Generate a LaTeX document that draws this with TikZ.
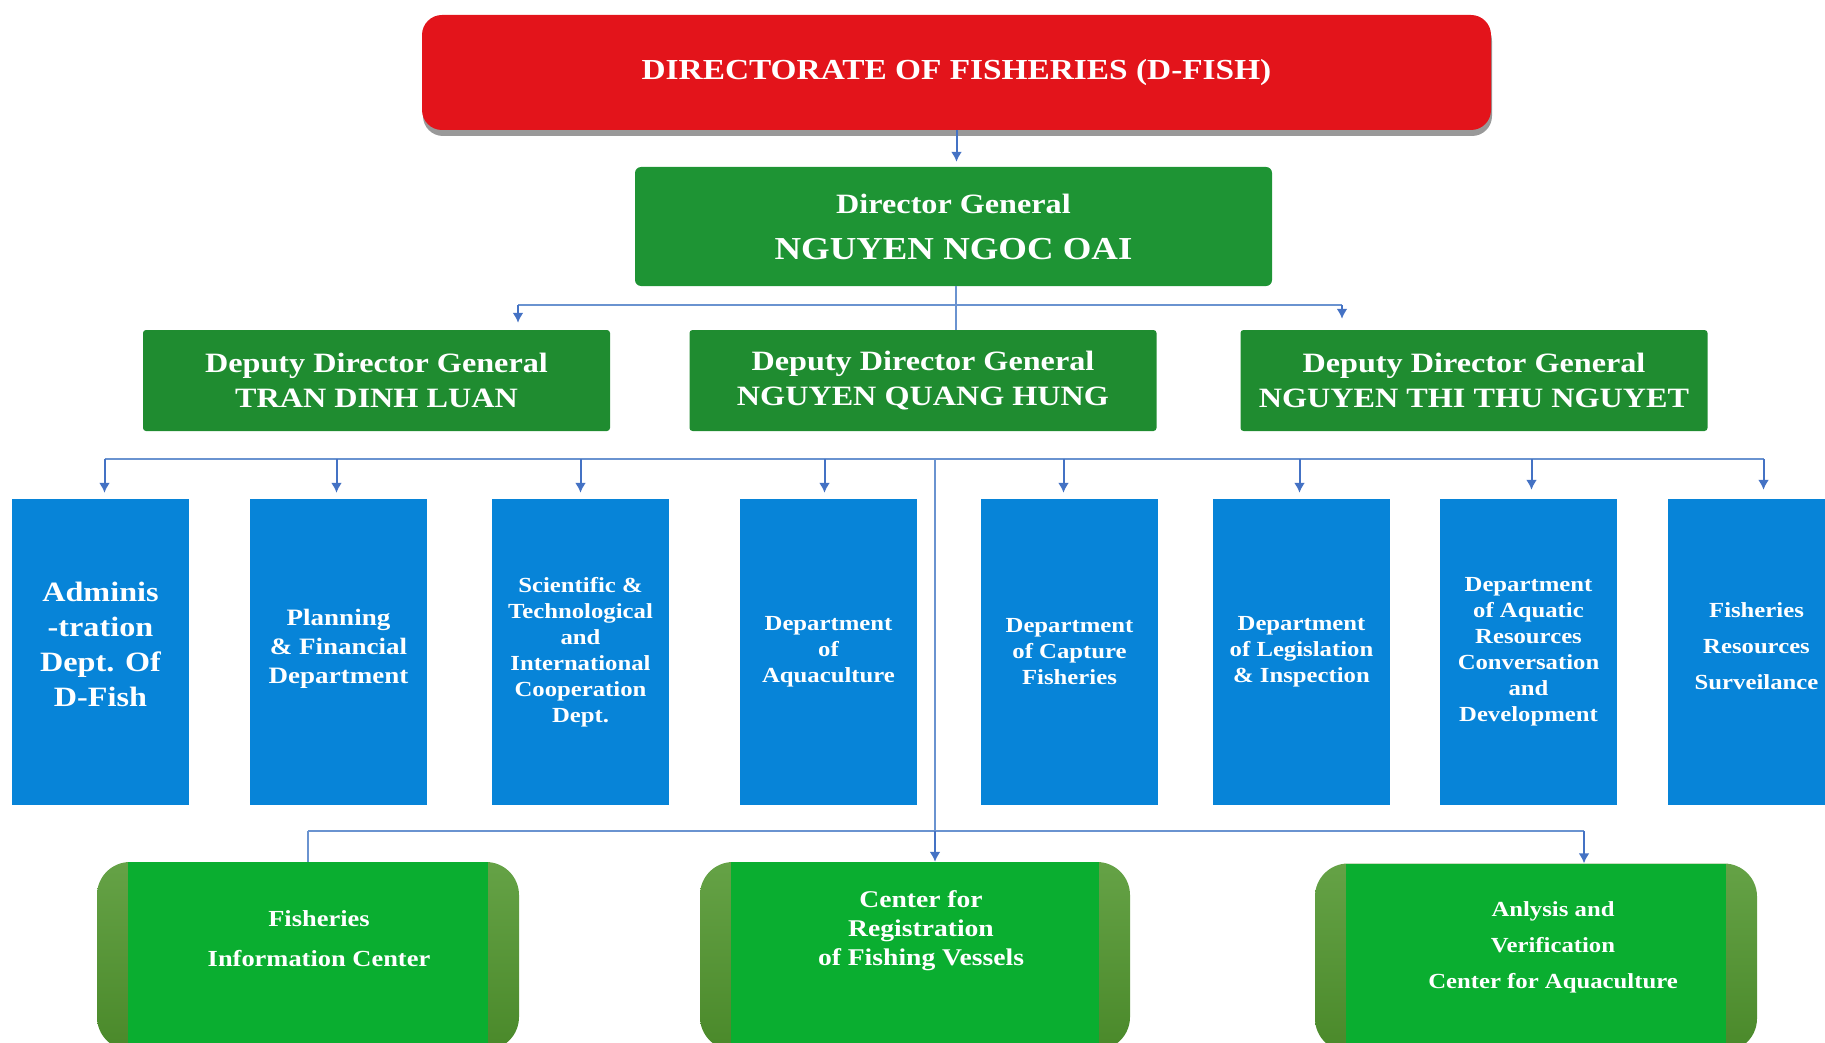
\documentclass[tikz,border=0pt]{standalone}
\usepackage{fontspec}
\setmainfont{Liberation Serif}[FakeStretch=1.15]
\usetikzlibrary{positioning,arrows.meta,shadows}
\definecolor{dfred}{HTML}{E3141B}
\definecolor{dggreen}{HTML}{1E9434}
\definecolor{ddgreen}{HTML}{1F8C30}
\definecolor{deptblue}{HTML}{0784D8}
\definecolor{ctrgreen}{HTML}{0AAE30}
\definecolor{bandtop}{HTML}{65A246}
\definecolor{bandbot}{HTML}{4A892A}
\definecolor{linkblue}{HTML}{4472C4}
\definecolor{busblue}{HTML}{6A93D0}
\tikzset{>={Latex[length=10pt,width=11pt]},
  topbox/.style={fill=dfred, rounded corners=20pt, minimum width=1069pt, minimum height=115pt, text=white, font=\fontsize{29}{34}\selectfont\bfseries, drop shadow={shadow xshift=1pt, shadow yshift=-6pt, opacity=.5, fill=black!80}},
  dgbox/.style={fill=dggreen, rounded corners=6pt, minimum width=637pt, minimum height=119pt, text=white, align=center, font=\fontsize{32}{46}\selectfont\bfseries},
  ddbox/.style={fill=ddgreen, rounded corners=3pt, minimum width=467pt, minimum height=101pt, text=white, align=center, font=\fontsize{28}{35}\selectfont\bfseries},
  deptbox/.style={fill=deptblue, minimum width=177pt, minimum height=306pt, align=center, text=white, font=\fontsize{21.5}{26}\selectfont\bfseries},
  ctrbox/.style={rounded corners=33pt, top color=bandtop, bottom color=bandbot, minimum height=188pt, path picture={\fill[ctrgreen, sharp corners] ([xshift=31pt]path picture bounding box.north west) rectangle ([xshift=-31pt]path picture bounding box.south east);}},
  ctrtext/.style={text=white, align=center, font=\fontsize{23}{29}\selectfont\bfseries},
  link/.style={linkblue, line width=2pt},
  bus/.style={busblue, line width=1.5pt}
}
\begin{document}
\begin{tikzpicture}[x=1pt, y=-1pt]
      \useasboundingbox (0,0) rectangle (1825,1043);
      \clip (0,0) rectangle (1825,1043);
      \node[topbox] (n0) at (956.5,72.5) {DIRECTORATE OF FISHERIES (D-FISH)};
      \node[dgbox] (n1) at (953.5,226.5) {{\fontsize{28}{46}\selectfont Director General}\\NGUYEN NGOC OAI};
      \node[ddbox] (n2) at (376.5,380.5) {Deputy Director General\\TRAN DINH LUAN};
      \node[ddbox, right of=n2, node distance=546.5pt] (n3) {Deputy Director General\\NGUYEN QUANG HUNG};
      \node[ddbox, right of=n3, node distance=551pt] (n4) {Deputy Director General\\NGUYEN THI THU NGUYET};
      \node[deptbox, font=\fontsize{28}{35}\selectfont\bfseries] (n5) at (100.5,652) {Adminis\\-tration\\Dept. Of\\D-Fish\\[-20pt]};
      \node[deptbox, right of=n5, node distance=238pt, font=\fontsize{23.5}{29}\selectfont\bfseries] (n6) {Planning\\\& Financial\\Department\\[-18pt]};
      \node[deptbox, right of=n6, node distance=242pt] (n7) {Scientific \&\\Technological\\and\\International\\Cooperation\\Dept.};
      \node[deptbox, right of=n7, node distance=248pt] (n8) {Department\\of\\Aquaculture};
      \node[deptbox, right of=n8, node distance=241pt] (n9) {Department\\of Capture\\Fisheries};
      \node[deptbox, right of=n9, node distance=232pt] (n10) {Department\\of Legislation\\\& Inspection};
      \node[deptbox, right of=n10, node distance=227pt] (n11) {Department\\of Aquatic\\Resources\\Conversation\\and\\Development};
      \node[deptbox, right of=n11, node distance=228pt, font=\fontsize{21.5}{36}\selectfont\bfseries] (n12) {Fisheries\\Resources\\Surveilance\\[-24pt]};
      \node[ctrbox, minimum width=422pt, label={[ctrtext, xshift=11pt, yshift=17pt, font=\fontsize{23}{40}\selectfont\bfseries]center:{Fisheries\\Information Center}}] (n13) at (308,956) {};
      \node[ctrbox, minimum width=430pt, label={[ctrtext, xshift=6pt, yshift=25pt, font=\fontsize{24}{29}\selectfont\bfseries]center:{Center for\\Registration\\of Fishing Vessels}}] (n14) at (915,956) {};
      \node[ctrbox, minimum width=442pt, label={[ctrtext, xshift=17pt, yshift=10pt, font=\fontsize{21.5}{36}\selectfont\bfseries]center:{Anlysis and\\Verification\\Center for Aquaculture}}] (n15) at (1536,957.5) {};
      \coordinate (aux1) at (956,305);
      \coordinate (aux2) at (518,305);
      \coordinate (aux3) at (1342,305);
      \coordinate (aux4) at (935,459);
      \coordinate (aux5) at (935,831);
      \coordinate (aux6) at (1584,831);
      \draw[link, ->, shorten >=5pt] (n0.south) to (n0.south |- n1.north);
      \draw[bus] (aux1 |- n1.south) to (aux1 |- n3.north);
      \draw[bus] (aux2) to (aux3);
      \draw[link, ->, shorten >=7pt] (aux2) to (aux2 |- n2.north);
      \draw[link, ->, shorten >=11pt] (aux3) to (aux3 |- n4.north);
      \draw[bus] ([xshift=4pt]aux4 -| n5) to ([xshift=7pt]aux4 -| n12);
      \draw[link, ->, shorten >=6pt] ([xshift=4pt]aux4 -| n5) to ([xshift=4pt]n5.north);
      \draw[link, ->, shorten >=6pt] ([xshift=-2pt]aux4 -| n6) to ([xshift=-2pt]n6.north);
      \draw[link, ->, shorten >=6pt] (aux4 -| n7) to (n7);
      \draw[link, ->, shorten >=6pt] ([xshift=-4pt]aux4 -| n8) to ([xshift=-4pt]n8.north);
      \draw[link, ->, shorten >=6pt] ([xshift=-6pt]aux4 -| n9) to ([xshift=-6pt]n9.north);
      \draw[link, ->, shorten >=6pt] ([xshift=-2pt]aux4 -| n10) to ([xshift=-2pt]n10.north);
      \draw[link, ->, shorten >=9pt] ([xshift=3pt]aux4 -| n11) to ([xshift=3pt]n11.north);
      \draw[link, ->, shorten >=9pt] ([xshift=7pt]aux4 -| n12) to ([xshift=7pt]n12.north);
      \draw[bus] (aux4) to (aux5);
      \draw[bus] (aux5 -| n13) to (aux6);
      \draw[bus] (aux5 -| n13) to (n13);
      \draw[link, ->] (aux5) to (aux5 |- n14.north);
      \draw[link, ->] (aux6) to (aux6 |- n15.north);
    \end{tikzpicture}
\end{document}
